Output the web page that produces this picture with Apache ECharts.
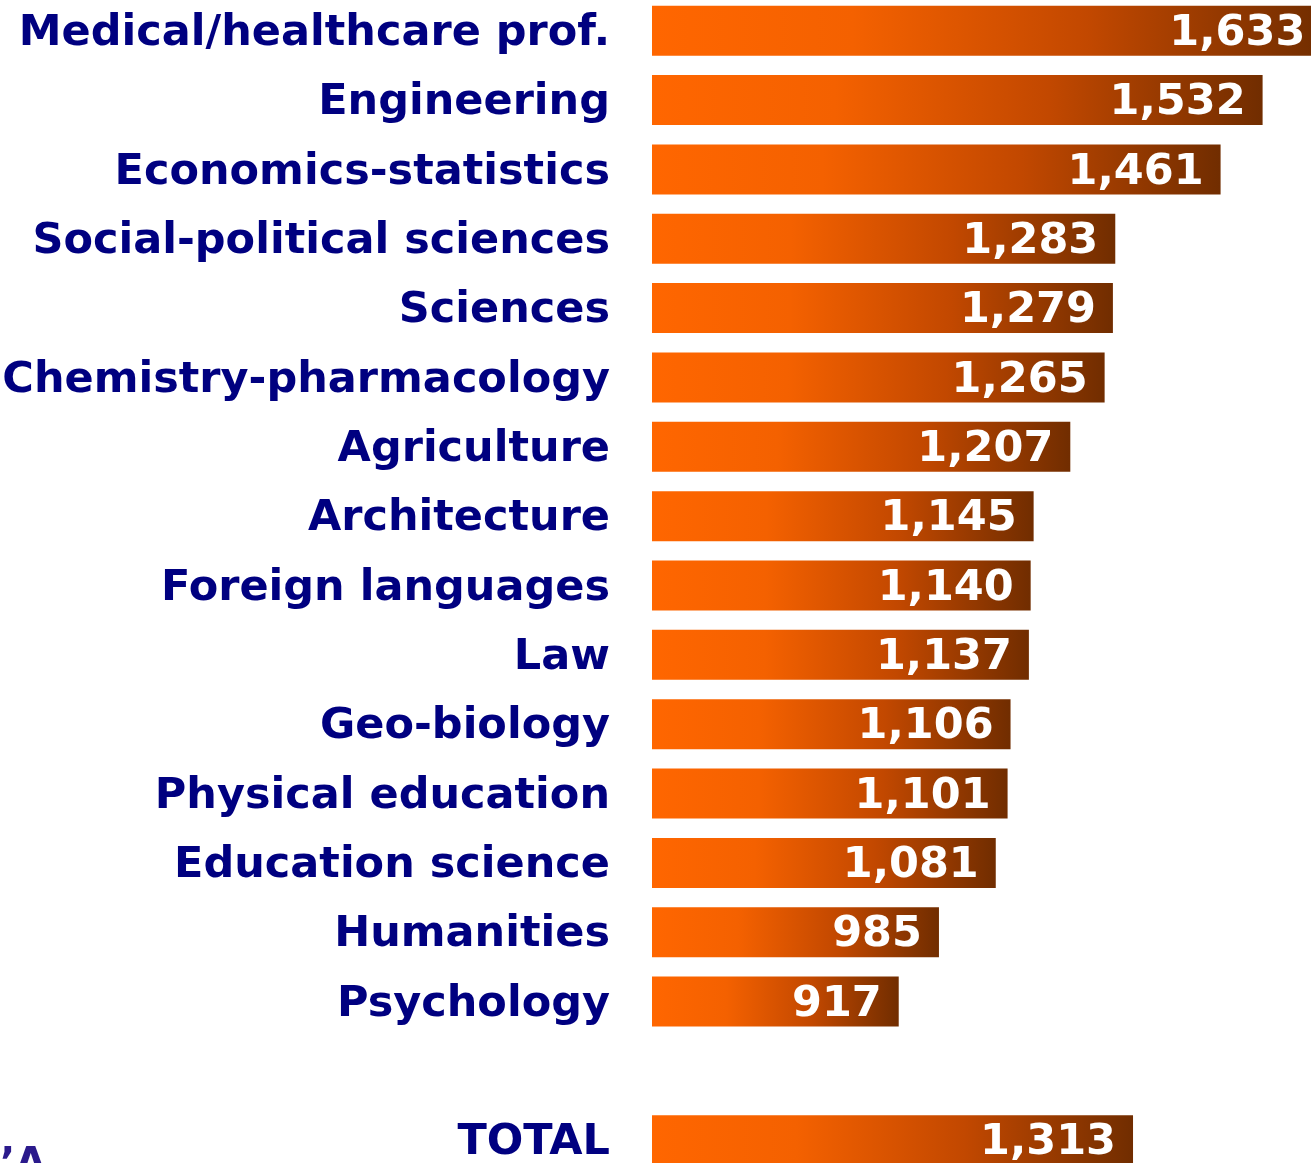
<!DOCTYPE html>
<html>
<head>
<meta charset="utf-8">
<title></title>
<script src="https://cdn.jsdelivr.net/npm/echarts@6/dist/echarts.min.js"></script>
<style>
  html, body { margin: 0; padding: 0; background: #ffffff; }
  #chart { width: 1311px; height: 1163px; }
</style>
</head>
<body>
<div id="chart"></div>
<script>
// categories top to bottom, '' is the blank gap before TOTAL
var categories = ['Medical/healthcare prof.', 'Engineering', 'Economics-statistics',
  'Social-political sciences', 'Sciences', 'Chemistry-pharmacology', 'Agriculture',
  'Architecture', 'Foreign languages', 'Law', 'Geo-biology', 'Physical education',
  'Education science', 'Humanities', 'Psychology', '', 'TOTAL'];
var values = [1633, 1532, 1461, 1283, 1279, 1265, 1207, 1145, 1140, 1137, 1106, 1101,
  1081, 985, 917, null, 1313];

// the bars start at this value, not at zero
var axisStart = 500;
var axisEnd = 1700;

var chart = echarts.init(document.getElementById('chart'));

var fontFam = '"DejaVu Sans", Verdana, sans-serif';

var barColor = new echarts.graphic.LinearGradient(0, 0, 1, 0, [
  { offset: 0, color: '#ff6600' },
  { offset: 0.3, color: '#f46100' },
  { offset: 0.65, color: '#c24800' },
  { offset: 1, color: '#712d00' }
]);

var baseData = values.map(function (v) { return v == null ? '-' : axisStart; });
var barData = values.map(function (v) { return v == null ? '-' : v - axisStart; });

var option = {
  backgroundColor: '#ffffff',
  animation: false,
  grid: {
    left: 652, top: -4, width: 710, height: 1179,
    containLabel: false,
    outerBoundsMode: 'none'
  },
  xAxis: {
    type: 'value',
    min: axisStart,
    max: axisEnd,
    show: false,
    splitLine: { show: false }
  },
  yAxis: {
    type: 'category',
    inverse: true,
    data: categories,
    axisLine: { show: false },
    axisTick: { show: false },
    splitLine: { show: false },
    axisLabel: {
      margin: 42,
      formatter: function (v) { return v ? '{c|' + v + '}' : ''; },
      rich: {
        c: {
          color: '#000080',
          fontSize: 43,
          fontWeight: 'bold',
          fontFamily: fontFam,
          padding: [6, 0, 0, 0]
        }
      }
    }
  },
  series: [
    {
      name: 'base',
      type: 'bar',
      stack: 'a',
      barWidth: 50,
      silent: true,
      itemStyle: { color: 'rgba(0,0,0,0)' },
      data: baseData
    },
    {
      name: 'value',
      type: 'bar',
      stack: 'a',
      barWidth: 50,
      itemStyle: { color: barColor },
      label: {
        show: true,
        position: 'insideRight',
        distance: 17,
        offset: [0, 3],
        color: '#ffffff',
        fontSize: 43,
        fontWeight: 'bold',
        fontFamily: fontFam,
        formatter: function (p) {
          return values[p.dataIndex].toLocaleString('en-US');
        }
      },
      data: barData
    }
  ],
  graphic: [
    {
      type: 'text',
      left: 0,
      top: 1146,
      style: { text: '\u2019A', fill: '#2b1a8c', font: 'bold 40px ' + fontFam }
    }
  ]
};

chart.setOption(option);
</script>
</body>
</html>
